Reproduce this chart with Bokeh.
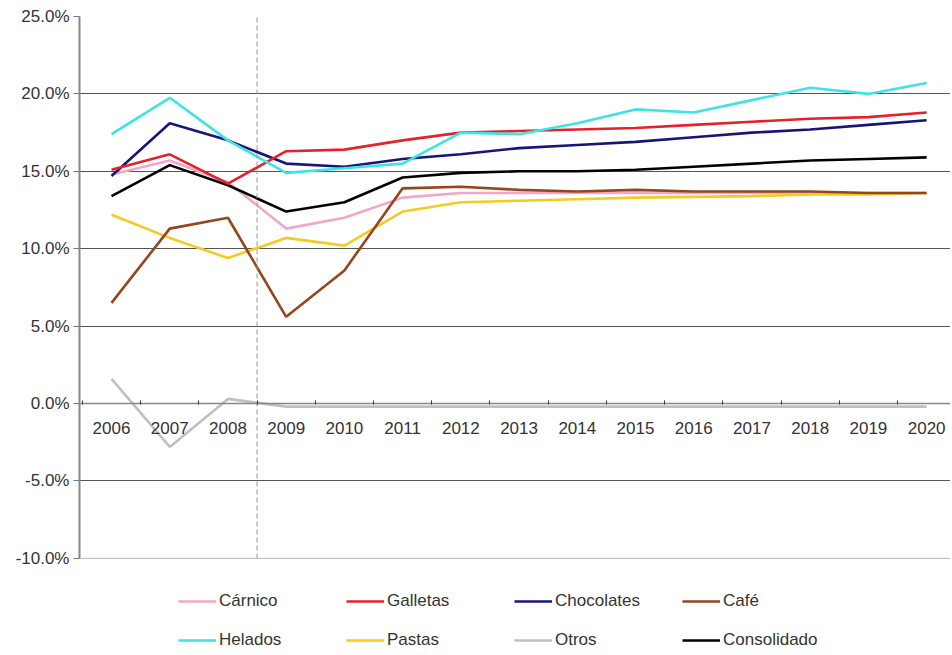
from bokeh.plotting import figure
from bokeh.models import Range1d, FixedTicker, PrintfTickFormatter, Span, Legend, LegendItem
from bokeh.embed import file_html
from bokeh.resources import INLINE

years = list(range(2006, 2021))
carnico = [14.8, 15.7, 14.3, 11.3, 12.0, 13.3, 13.6, 13.6, 13.6, 13.6, 13.6, 13.6, 13.6, 13.6, 13.6]
galletas = [15.1, 16.1, 14.2, 16.3, 16.4, 17.0, 17.5, 17.6, 17.7, 17.8, 18.0, 18.2, 18.4, 18.5, 18.8]
chocolates = [14.7, 18.1, 17.0, 15.5, 15.3, 15.8, 16.1, 16.5, 16.7, 16.9, 17.2, 17.5, 17.7, 18.0, 18.3]
cafe = [6.5, 11.3, 12.0, 5.6, 8.6, 13.9, 14.0, 13.8, 13.7, 13.8, 13.7, 13.7, 13.7, 13.6, 13.6]
helados = [17.4, 19.75, 17.0, 14.9, 15.2, 15.5, 17.5, 17.4, 18.1, 19.0, 18.8, 19.6, 20.4, 20.0, 20.7]
pastas = [12.2, 10.7, 9.4, 10.7, 10.2, 12.4, 13.0, 13.1, 13.2, 13.3, 13.35, 13.4, 13.5, 13.5, 13.6]
otros = [1.6, -2.8, 0.3, -0.2, -0.2, -0.2, -0.2, -0.2, -0.2, -0.2, -0.2, -0.2, -0.2, -0.2, -0.2]
consolidado = [13.4, 15.4, 14.1, 12.4, 13.0, 14.6, 14.9, 15.0, 15.0, 15.1, 15.3, 15.5, 15.7, 15.8, 15.9]

y_ticks = [-10, -5, 0, 5, 10, 15, 20, 25]
y_min, y_max = -10, 25
divider_year = 2008.5

series = [
    ("Cárnico", carnico, "#F2A7C8"),
    ("Galletas", galletas, "#E32229"),
    ("Chocolates", chocolates, "#16167A"),
    ("Café", cafe, "#94461C"),
    ("Helados", helados, "#3FE3E3"),
    ("Pastas", pastas, "#F2CC22"),
    ("Otros", otros, "#C0C0C0"),
    ("Consolidado", consolidado, "#000000"),
]
draw_order = ["Otros", "Cárnico", "Pastas", "Café", "Consolidado", "Chocolates", "Galletas", "Helados"]
# legend is filled column by column: rows are (Cárnico, Galletas, Chocolates, Café) / (Helados, Pastas, Otros, Consolidado)
legend_order = ["Cárnico", "Helados", "Galletas", "Pastas", "Chocolates", "Otros", "Café", "Consolidado"]

FONT = "Liberation Sans"

# the frame runs down below -10% to leave room for the legend inside it
p = figure(width=950, height=650, output_backend="svg", toolbar_location=None,
           x_range=Range1d(2005.45, 2020.41), y_range=Range1d(-15.95, y_max),
           min_border_left=79, min_border_right=0, min_border_top=16, min_border_bottom=0)
p.outline_line_color = None
p.background_fill_color = "white"
p.border_fill_color = "white"

renderers = {}
for name in draw_order:
    label, vals, color = next(s for s in series if s[0] == name)
    renderers[name] = p.line(years, vals, line_color=color, line_width=2.6)

# x axis drawn at the zero line
xa = p.xaxis[0]
xa.fixed_location = 0
xa.ticker = FixedTicker(ticks=years, minor_ticks=[y - 0.5 for y in years])
xa.major_tick_in = 0
xa.major_tick_out = 0
xa.minor_tick_in = 3
xa.minor_tick_out = 1
xa.minor_tick_line_color = "#333333"
xa.axis_line_color = "#888888"
xa.axis_line_width = 1.5
xa.major_label_standoff = 17
xa.major_label_text_font = FONT
xa.major_label_text_font_size = "17px"
xa.major_label_text_color = "#333333"
p.xgrid.visible = False

ya = p.yaxis[0]
ya.bounds = (y_min, y_max)
ya.ticker = FixedTicker(ticks=y_ticks, minor_ticks=[])
ya.formatter = PrintfTickFormatter(format="%.1f%%")
ya.major_tick_out = 6
ya.major_tick_in = 0
ya.major_tick_line_color = "#777777"
ya.axis_line_color = "#888888"
ya.axis_line_width = 2
ya.major_label_standoff = 4
ya.major_label_text_font = FONT
ya.major_label_text_font_size = "17px"
ya.major_label_text_color = "#333333"
p.ygrid.ticker = FixedTicker(ticks=y_ticks[1:])
p.ygrid.grid_line_color = "#555555"
p.ygrid.grid_line_width = 1

p.add_layout(Span(location=y_min, dimension="width", line_color="#b5b5b5", line_width=1))
p.segment(x0=[divider_year], y0=[y_min], x1=[divider_year], y1=[y_max],
          line_color="#999999", line_width=1, line_dash="5 3")

items = [LegendItem(label=n, renderers=[renderers[n]]) for n in legend_order]
legend = Legend(items=items, ncols=4, location=(99, 0),
                border_line_color=None, background_fill_alpha=0,
                glyph_width=38, glyph_height=18, label_height=18, label_standoff=3,
                label_width=108, spacing=19, padding=0, margin=0,
                label_text_font=FONT, label_text_font_size="17px", label_text_color="#333333")
p.add_layout(legend, "center")

open("out.html", "w").write(file_html(p, INLINE))
